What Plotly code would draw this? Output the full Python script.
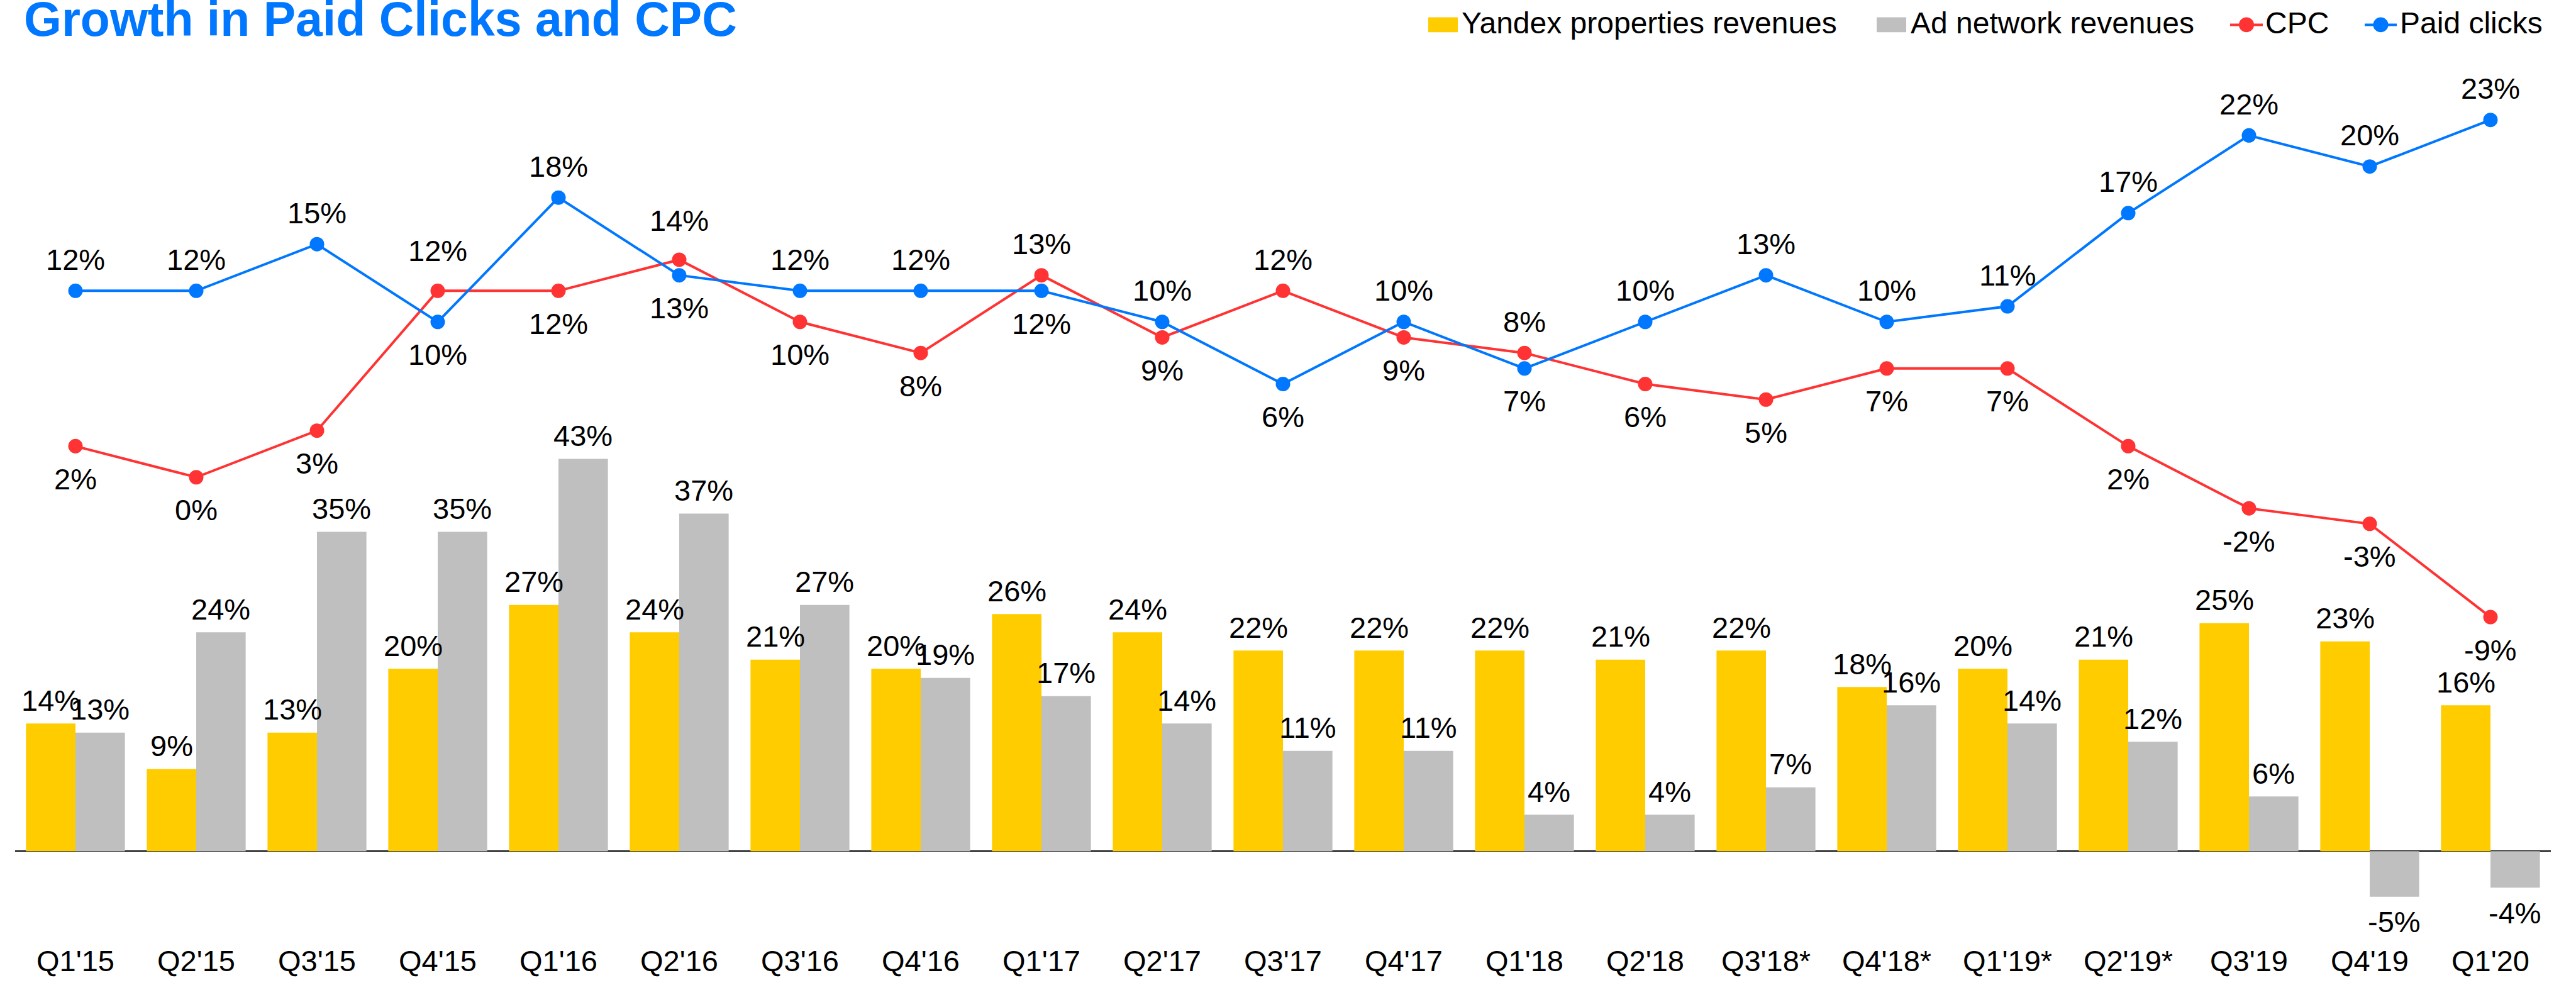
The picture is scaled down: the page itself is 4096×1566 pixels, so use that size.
import plotly.graph_objects as go

# ---- data -------------------------------------------------------------
quarters = ["Q1'15", "Q2'15", "Q3'15", "Q4'15", "Q1'16", "Q2'16", "Q3'16",
            "Q4'16", "Q1'17", "Q2'17", "Q3'17", "Q4'17", "Q1'18", "Q2'18",
            "Q3'18*", "Q4'18*", "Q1'19*", "Q2'19*", "Q3'19", "Q4'19", "Q1'20"]
yandex_properties = [14, 9, 13, 20, 27, 24, 21, 20, 26, 24, 22, 22, 22, 21,
                     22, 18, 20, 21, 25, 23, 16]
ad_network = [13, 24, 35, 35, 43, 37, 27, 19, 17, 14, 11, 11, 4, 4,
              7, 16, 14, 12, 6, -5, -4]
cpc = [2, 0, 3, 12, 12, 14, 10, 8, 13, 9, 12, 9, 8, 6,
       5, 7, 7, 2, -2, -3, -9]
paid_clicks = [12, 12, 15, 10, 18, 13, 12, 12, 12, 10, 6, 10, 7, 10,
               13, 10, 11, 17, 22, 20, 23]

# label placement for the line series (pixels from the marker, + is up)
cpc_label_offset = [-52, -52, -52, 64, -52, 62, -52, -52, 50, -52, 50, -52, 50, -52,
                    -52, -52, -52, -52, -52, -52, -52]
clicks_label_offset = [50, 50, 50, -52, 50, -52, 50, 50, -52, 50, -52, 50, -52, 50,
                       50, 50, 50, 50, 50, 50, 50]

# ---- styling ----------------------------------------------------------
YELLOW = "#FFCC00"
GRAY = "#BFBFBF"
RED = "#FF3333"
BLUE = "#0077FF"
FONT = "Liberation Sans, Arial, sans-serif"
LABEL_SIZE = 47

W_PX, H_PX = 4096, 1566
M_L, M_R, M_T, M_B = 24, 40, 100, 61
PLOT_W = W_PX - M_L - M_R
PLOT_H = H_PX - M_T - M_B
TOP, BOTTOM = M_T, H_PX - M_B

BARGAP = 0.181
bar_half = PLOT_W / len(quarters) * (1 - BARGAP) / 4  # half of one bar width


def axis_range(zero_px, px_per_unit):
    """Value range that puts 0 at zero_px with the given scale."""
    return [-(BOTTOM - zero_px) / px_per_unit, (zero_px - TOP) / px_per_unit]


def px_x(px):
    return (px - M_L) / PLOT_W


def px_y(py):
    return (BOTTOM - py) / PLOT_H


fig = go.Figure()

fig.add_trace(go.Bar(x=quarters, y=yandex_properties, name="Yandex properties revenues",
                     marker=dict(color=YELLOW, line=dict(width=0)),
                     yaxis="y", showlegend=False))
fig.add_trace(go.Bar(x=quarters, y=ad_network, name="Ad network revenues",
                     marker=dict(color=GRAY, line=dict(width=0)),
                     yaxis="y", showlegend=False))
fig.add_trace(go.Scatter(x=quarters, y=cpc, name="CPC", mode="lines+markers",
                         line=dict(color=RED, width=4),
                         marker=dict(color=RED, size=23),
                         yaxis="y2", showlegend=False, cliponaxis=False))
fig.add_trace(go.Scatter(x=quarters, y=paid_clicks, name="Paid clicks", mode="lines+markers",
                         line=dict(color=BLUE, width=4),
                         marker=dict(color=BLUE, size=23),
                         yaxis="y2", showlegend=False, cliponaxis=False))

annotations = []
label_font = dict(family=FONT, size=LABEL_SIZE, color="#000000")

# value labels on the bars
for series, dx in ((yandex_properties, -bar_half), (ad_network, bar_half)):
    for q, v in zip(quarters, series):
        annotations.append(dict(x=q, y=v, xref="x", yref="y", text=f"{v}%",
                                showarrow=False, xshift=dx,
                                yshift=37 if v >= 0 else -40,
                                xanchor="center", yanchor="middle", font=label_font))

# value labels on the lines
for series, offsets in ((cpc, cpc_label_offset), (paid_clicks, clicks_label_offset)):
    for q, v, off in zip(quarters, series, offsets):
        annotations.append(dict(x=q, y=v, xref="x", yref="y2", text=f"{v}%",
                                showarrow=False, yshift=off,
                                xanchor="center", yanchor="middle", font=label_font))

# title
annotations.append(dict(x=px_x(36), y=px_y(30), xref="paper", yref="paper",
                        text="<b>Growth in Paid Clicks and CPC</b>", showarrow=False,
                        xanchor="left", yanchor="middle",
                        font=dict(family=FONT, size=77, color=BLUE)))

# legend
shapes = []
LEG_Y = 39
legend_font = dict(family=FONT, size=48, color="#000000")
for x0, x1, color, text, tx in ((2271, 2318, YELLOW, "Yandex properties revenues", 2322),
                                (2984, 3031, GRAY, "Ad network revenues", 3036)):
    shapes.append(dict(type="rect", xref="paper", yref="paper",
                       x0=px_x(x0), x1=px_x(x1), y0=px_y(LEG_Y + 12), y1=px_y(LEG_Y - 12),
                       fillcolor=color, line=dict(width=0)))
    annotations.append(dict(x=px_x(tx), y=px_y(36), xref="paper", yref="paper", text=text,
                            showarrow=False, xanchor="left", yanchor="middle", font=legend_font))
for x0, x1, color, text, tx in ((3546, 3598, RED, "CPC", 3600),
                                (3760, 3811, BLUE, "Paid clicks", 3814)):
    shapes.append(dict(type="line", xref="paper", yref="paper",
                       x0=px_x(x0), x1=px_x(x1), y0=px_y(LEG_Y), y1=px_y(LEG_Y),
                       line=dict(color=color, width=4)))
    cx = (x0 + x1) / 2
    shapes.append(dict(type="circle", xref="paper", yref="paper",
                       x0=px_x(cx - 12), x1=px_x(cx + 12),
                       y0=px_y(LEG_Y + 12), y1=px_y(LEG_Y - 12),
                       fillcolor=color, line=dict(width=0)))
    annotations.append(dict(x=px_x(tx), y=px_y(36), xref="paper", yref="paper", text=text,
                            showarrow=False, xanchor="left", yanchor="middle", font=legend_font))

fig.update_layout(
    width=W_PX, height=H_PX, autosize=False,
    margin=dict(l=M_L, r=M_R, t=M_T, b=M_B, pad=0),
    paper_bgcolor="white", plot_bgcolor="white",
    barmode="group", bargap=BARGAP, bargroupgap=0,
    showlegend=False,
    font=dict(family=FONT, color="#000000"),
    xaxis=dict(type="category", range=[-0.5, len(quarters) - 0.5],
               showgrid=False, showline=False, zeroline=False,
               ticks="", tickfont=dict(family=FONT, size=LABEL_SIZE, color="#000000"),
               fixedrange=True),
    yaxis=dict(range=axis_range(1361.4, 14.6), showgrid=False, showticklabels=False,
               zeroline=True, zerolinecolor="#000000", zerolinewidth=2,
               showline=False, ticks=""),
    yaxis2=dict(range=axis_range(763, 24.86), overlaying="y", side="right",
                showgrid=False, showticklabels=False, zeroline=False,
                showline=False, ticks=""),
    annotations=annotations,
    shapes=shapes,
)

fig.write_html("out.html")
